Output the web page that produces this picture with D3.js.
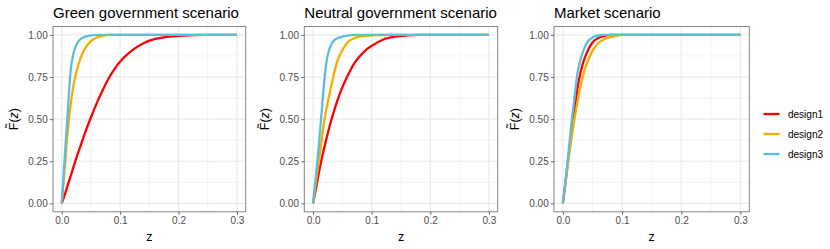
<!DOCTYPE html>
<html>
<head>
<meta charset="utf-8">
<script src="https://cdn.jsdelivr.net/npm/d3@7"></script>
<style>
  html, body { margin: 0; padding: 0; background: #ffffff; }
  svg { display: block; font-family: "Liberation Sans", Arial, Helvetica, sans-serif; }
</style>
</head>
<body>
<svg id="chart" width="830" height="249"></svg>
<script>
// ---------------- data ----------------
const zGrid = [0, 0.005, 0.01, 0.015, 0.02, 0.025, 0.03, 0.035, 0.04, 0.05, 0.06, 0.07, 0.08, 0.09, 0.1, 0.12, 0.14, 0.16, 0.18, 0.2, 0.25, 0.3];

const scenarios = ["Green government scenario", "Neutral government scenario", "Market scenario"];
const designs = ["design1", "design2", "design3"];

const greenDesign1 = [0, 0.05, 0.105, 0.16, 0.215, 0.27, 0.32, 0.37, 0.42, 0.51, 0.595, 0.672, 0.74, 0.795, 0.842, 0.907, 0.951, 0.976, 0.988, 0.995, 1, 1];
const greenDesign2 = [0, 0.2, 0.42, 0.58, 0.70, 0.78, 0.84, 0.885, 0.92, 0.963, 0.985, 0.995, 1, 1, 1, 1, 1, 1, 1, 1, 1, 1];
const greenDesign3 = [0, 0.27, 0.53, 0.78, 0.89, 0.94, 0.968, 0.982, 0.99, 0.997, 1, 1, 1, 1, 1, 1, 1, 1, 1, 1, 1, 1];

const neutralDesign1 = [0, 0.09, 0.185, 0.27, 0.345, 0.415, 0.48, 0.54, 0.595, 0.69, 0.765, 0.83, 0.875, 0.91, 0.935, 0.973, 0.99, 0.997, 1, 1, 1, 1];
const neutralDesign2 = [0, 0.13, 0.26, 0.385, 0.51, 0.6, 0.68, 0.76, 0.83, 0.91, 0.96, 0.98, 0.99, 0.995, 0.998, 1, 1, 1, 1, 1, 1, 1];
const neutralDesign3 = [0, 0.17, 0.35, 0.56, 0.76, 0.88, 0.935, 0.965, 0.978, 0.99, 0.996, 1, 1, 1, 1, 1, 1, 1, 1, 1, 1, 1];

const marketDesign1 = [0, 0.14, 0.29, 0.43, 0.56, 0.69, 0.78, 0.845, 0.89, 0.955, 0.982, 0.994, 1, 1, 1, 1, 1, 1, 1, 1, 1, 1];
const marketDesign2 = [0, 0.14, 0.275, 0.395, 0.51, 0.61, 0.70, 0.77, 0.825, 0.905, 0.952, 0.975, 0.987, 0.995, 1, 1, 1, 1, 1, 1, 1, 1];
const marketDesign3 = [0, 0.155, 0.32, 0.49, 0.64, 0.78, 0.855, 0.91, 0.95, 0.985, 0.997, 1, 1, 1, 1, 1, 1, 1, 1, 1, 1, 1];

const xTicks = [0, 0.1, 0.2, 0.3];
const xTickLabels = ["0.0", "0.1", "0.2", "0.3"];
const yTicks = [0, 0.25, 0.5, 0.75, 1];
const yTickLabels = ["0.00", "0.25", "0.50", "0.75", "1.00"];

const panelSeries = [
  [greenDesign1, greenDesign2, greenDesign3],
  [neutralDesign1, neutralDesign2, neutralDesign3],
  [marketDesign1, marketDesign2, marketDesign3]
];

// ---------------- layout & style ----------------
const colors = ["#FF0000", "#F5AE00", "#5BBFDA"];
const panels = [
  { left: 53, right: 245.7 },
  { left: 304.3, right: 497.7 },
  { left: 554, right: 749.3 }
];
const plotTop = 26.5, plotBottom = 211.8;

const svg = d3.select("#chart");

const color = d3.scaleOrdinal().domain(designs).range(colors);

panels.forEach((p, i) => {
  const x = d3.scaleLinear().domain([-0.015, 0.315]).range([p.left, p.right]);
  const y = d3.scaleLinear().domain([-0.05, 1.05]).range([plotBottom, plotTop]);
  const g = svg.append("g");

  g.append("rect").attr("x", p.left).attr("y", plotTop)
    .attr("width", p.right - p.left).attr("height", plotBottom - plotTop)
    .attr("fill", "#ffffff");

  // minor grid
  const xMinor = [0.05, 0.15, 0.25];
  const yMinor = [0.125, 0.375, 0.625, 0.875];
  g.selectAll(".xminor").data(xMinor).enter().append("line")
    .attr("x1", d => x(d)).attr("x2", d => x(d)).attr("y1", plotTop).attr("y2", plotBottom)
    .attr("stroke", "#EBEBEB").attr("stroke-width", 0.6);
  g.selectAll(".yminor").data(yMinor).enter().append("line")
    .attr("y1", d => y(d)).attr("y2", d => y(d)).attr("x1", p.left).attr("x2", p.right)
    .attr("stroke", "#EBEBEB").attr("stroke-width", 0.6);
  // major grid
  g.selectAll(".xmajor").data(xTicks).enter().append("line")
    .attr("x1", d => x(d)).attr("x2", d => x(d)).attr("y1", plotTop).attr("y2", plotBottom)
    .attr("stroke", "#EBEBEB").attr("stroke-width", 1.2);
  g.selectAll(".ymajor").data(yTicks).enter().append("line")
    .attr("y1", d => y(d)).attr("y2", d => y(d)).attr("x1", p.left).attr("x2", p.right)
    .attr("stroke", "#EBEBEB").attr("stroke-width", 1.2);

  // lines
  const line = d3.line()
    .x((d, k) => x(zGrid[k]))
    .y(d => y(d))
    .curve(d3.curveMonotoneX);
  panelSeries[i].forEach((vals, s) => {
    g.append("path").datum(vals)
      .attr("d", line)
      .attr("fill", "none")
      .attr("stroke", color(designs[s]))
      .attr("stroke-width", 2.3)
      .attr("stroke-linejoin", "round")
      .attr("stroke-linecap", "butt");
  });

  // border
  g.append("rect").attr("x", p.left).attr("y", plotTop)
    .attr("width", p.right - p.left).attr("height", plotBottom - plotTop)
    .attr("fill", "none").attr("stroke", "#333333").attr("stroke-width", 1)
    .attr("stroke-opacity", 0.6);

  // axes
  const xAxis = d3.axisBottom(x).tickValues(xTicks)
    .tickFormat((d, k) => xTickLabels[k]).tickSize(3.1).tickPadding(2.2);
  const yAxis = d3.axisLeft(y).tickValues(yTicks)
    .tickFormat((d, k) => yTickLabels[k]).tickSize(3.1).tickPadding(2.2);

  const gx = g.append("g").attr("transform", `translate(0,${plotBottom})`).call(xAxis);
  const gy = g.append("g").attr("transform", `translate(${p.left},0)`).call(yAxis);
  [gx, gy].forEach(ax => {
    ax.select(".domain").remove();
    ax.selectAll(".tick line").attr("stroke", "#333333").attr("stroke-width", 1).attr("stroke-opacity", 0.7);
    ax.selectAll(".tick text").attr("fill", "#4D4D4D")
      .style("font-size", "10px")
      .style("font-family", "'Liberation Sans', Arial, sans-serif");
  });

  // title
  g.append("text").attr("x", p.left).attr("y", 17.5)
    .attr("fill", "#000").style("font-size", "15px")
    .text(scenarios[i]);

  // x axis title
  g.append("text").attr("x", (p.left + p.right) / 2).attr("y", 240.5)
    .attr("text-anchor", "middle").attr("fill", "#000")
    .style("font-size", "12.5px").text("z");

  // y axis title
  const yt = g.append("text")
    .attr("transform", `translate(${p.left - 35.5},${(plotTop + plotBottom) / 2}) rotate(-90)`)
    .attr("text-anchor", "middle").attr("fill", "#000")
    .style("font-size", "12.5px");
  yt.append("tspan").text("F\u0303(");
  yt.append("tspan").style("font-style", "italic").text("z");
  yt.append("tspan").text(")");
});

// legend
const legend = svg.append("g");
const legendY = [114, 134, 154];
designs.forEach((d, k) => {
  legend.append("line")
    .attr("x1", 763.5).attr("x2", 779.5)
    .attr("y1", legendY[k]).attr("y2", legendY[k])
    .attr("stroke", color(d)).attr("stroke-width", 2.3);
  legend.append("text")
    .attr("x", 788).attr("y", legendY[k]).attr("dy", "0.35em")
    .attr("fill", "#000").style("font-size", "10px")
    .text(d);
});
</script>
</body>
</html>
